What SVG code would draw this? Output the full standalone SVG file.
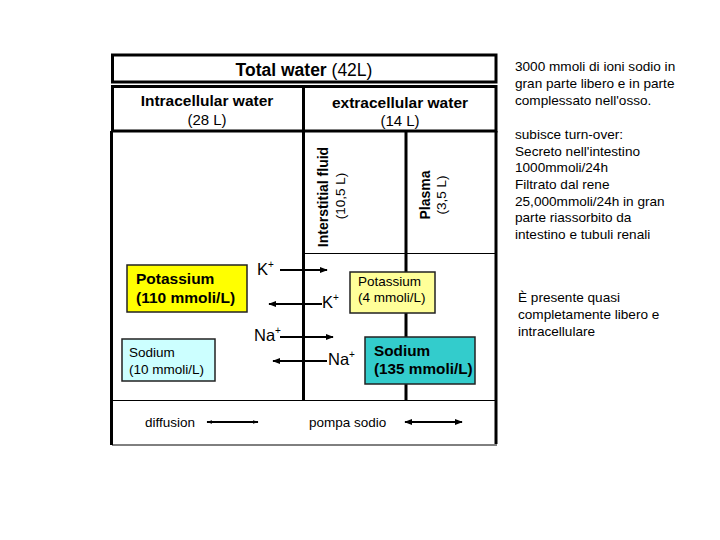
<svg xmlns="http://www.w3.org/2000/svg" width="720" height="540" viewBox="0 0 720 540">
<style>
.t{font-family:"Liberation Sans",Arial,sans-serif;fill:#000}
.b{font-weight:bold}
.thick{stroke:#000;stroke-width:3;fill:none}
.thin{stroke:#000;stroke-width:1;fill:none}
.box{stroke:#222;stroke-width:1.5}
.arr{stroke:#000;stroke-width:2;fill:none}
</style>
<defs>
<marker id="ah" viewBox="0 0 10 10" refX="9" refY="5" markerWidth="4" markerHeight="4" orient="auto-start-reverse">
<path d="M0,1 L10,5 L0,9 Z" fill="#000"/>
</marker>
<marker id="ahs" viewBox="0 0 10 10" refX="9" refY="5" markerWidth="3" markerHeight="3" orient="auto-start-reverse">
<path d="M0,2 L10,5 L0,8 Z" fill="#000"/>
</marker>
</defs>
<rect width="720" height="540" fill="#fff"/>

<g id="frame">
<rect class="thick" x="112.5" y="55" width="383.5" height="27"/>
<rect class="thick" x="112.5" y="86.5" width="383.5" height="44.5"/>
<line class="thick" x1="303.5" y1="86" x2="303.5" y2="400"/>
<line class="thick" x1="406" y1="131" x2="406" y2="400"/>
<line class="thick" x1="111.5" y1="131" x2="111.5" y2="445"/>
<line class="thick" x1="496" y1="131" x2="496" y2="444"/>
<line class="thin" x1="303" y1="253.5" x2="496" y2="253.5"/>
<line class="thin" x1="112" y1="400.5" x2="496" y2="400.5"/>
<line class="thin" x1="112" y1="445" x2="497" y2="445"/>
</g>

<g id="total">
<text class="t" x="304" y="76" text-anchor="middle" font-size="17.5"><tspan class="b">Total water</tspan> (42L)</text>
</g>
<g id="intracellular">
<text class="t b" x="207" y="106" text-anchor="middle" font-size="15.5">Intracellular water</text>
<text class="t" x="207" y="125" text-anchor="middle" font-size="15">(28 L)</text>
</g>
<g id="extracellular">
<text class="t b" x="400" y="108" text-anchor="middle" font-size="15.5">extracellular water</text>
<text class="t" x="400" y="126" text-anchor="middle" font-size="15">(14 L)</text>
</g>
<g id="interstitial">
<text class="t b" transform="translate(328,197) rotate(-90)" text-anchor="middle" font-size="14">Interstitial fluid</text>
<text class="t" transform="translate(345,196) rotate(-90)" text-anchor="middle" font-size="13.5">(10,5 L)</text>
</g>
<g id="plasma">
<text class="t b" transform="translate(430,195) rotate(-90)" text-anchor="middle" font-size="14">Plasma</text>
<text class="t" transform="translate(446,195) rotate(-90)" text-anchor="middle" font-size="13.5">(3,5 L)</text>
</g>

<g id="k-intra">
<rect class="box" x="127" y="265" width="120" height="47" fill="#ffff00"/>
<text class="t b" x="136" y="284" font-size="15.5">Potassium</text>
<text class="t b" x="136" y="303" font-size="15.5">(110 mmoli/L)</text>
</g>
<g id="k-extra">
<rect class="box" x="350" y="272" width="85" height="41" fill="#ffff99"/>
<text class="t" x="358" y="286" font-size="13.5">Potassium</text>
<text class="t" x="358" y="302" font-size="13.5">(4 mmoli/L)</text>
</g>
<g id="na-intra">
<rect class="box" x="122" y="339" width="93" height="42" fill="#ccffff"/>
<text class="t" x="129" y="357" font-size="13.5">Sodium</text>
<text class="t" x="129" y="374" font-size="13.5">(10 mmoli/L)</text>
</g>
<g id="na-extra">
<rect class="box" x="365" y="337" width="110" height="47" fill="#33cccc"/>
<text class="t b" x="374" y="356" font-size="15.3">Sodium</text>
<text class="t b" x="374" y="374" font-size="15.3">(135 mmoli/L)</text>
</g>

<g id="connectors">
<line class="arr" x1="280" y1="270" x2="327" y2="270" marker-end="url(#ah)"/>
<line class="arr" x1="322" y1="304" x2="269" y2="304" marker-end="url(#ah)"/>
<line class="arr" x1="280" y1="337" x2="333" y2="337" marker-end="url(#ah)"/>
<line class="arr" x1="327" y1="361" x2="273" y2="361" marker-end="url(#ah)"/>
<line class="arr" x1="207" y1="422" x2="258" y2="422" marker-start="url(#ahs)" marker-end="url(#ahs)"/>
<line class="arr" x1="405" y1="422" x2="462" y2="422" marker-start="url(#ah)" marker-end="url(#ah)"/>
</g>

<g id="ion-labels">
<text class="t" x="257" y="275" font-size="16.5">K<tspan font-size="10" dy="-7">+</tspan></text>
<text class="t" x="322" y="308" font-size="16.5">K<tspan font-size="10" dy="-7">+</tspan></text>
<text class="t" x="254" y="341" font-size="16.5">Na<tspan font-size="10" dy="-7">+</tspan></text>
<text class="t" x="328" y="365" font-size="16.5">Na<tspan font-size="10" dy="-7">+</tspan></text>
</g>

<g id="legend">
<text class="t" x="145" y="427" font-size="13.5">diffusion</text>
<text class="t" x="309" y="427" font-size="13.5">pompa sodio</text>
</g>

<g id="notes" class="t" font-size="13.6">
<text x="515" y="71">3000 mmoli di ioni sodio in</text>
<text x="515" y="88">gran parte libero e in parte</text>
<text x="515" y="105">complessato nell'osso.</text>
<text x="515" y="139">subisce turn-over:</text>
<text x="515" y="156">Secreto nell'intestino</text>
<text x="515" y="172">1000mmoli/24h</text>
<text x="515" y="189">Filtrato dal rene</text>
<text x="515" y="206">25,000mmoli/24h in gran</text>
<text x="515" y="222">parte riassorbito da</text>
<text x="515" y="239">intestino e tubuli renali</text>
<text x="518" y="302">È presente quasi</text>
<text x="518" y="319">completamente libero e</text>
<text x="518" y="336">intracellulare</text>
</g>
</svg>
